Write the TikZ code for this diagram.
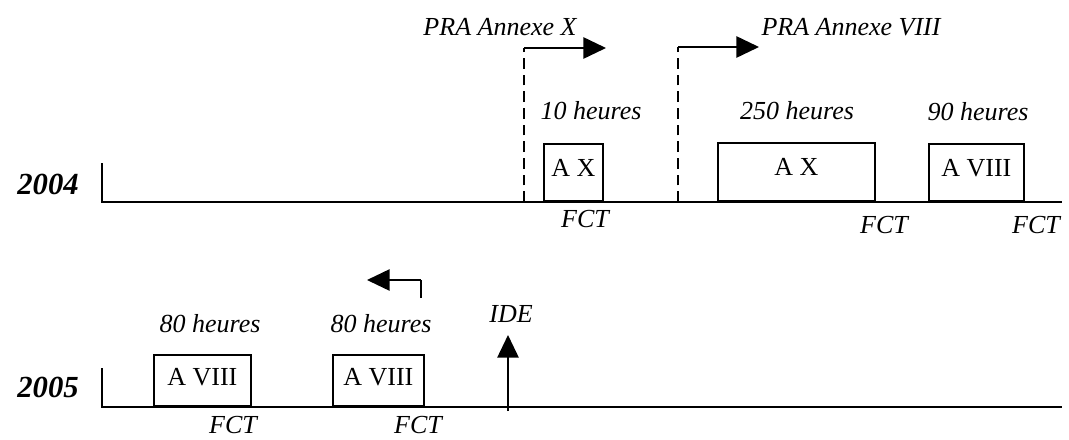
\documentclass[tikz,border=0pt]{standalone}
\usepackage{fontspec}
\setmainfont{Liberation Serif}
\usetikzlibrary{arrows.meta,positioning}

\tikzset{
  trait/.style={line width=1.3pt},
  tirets/.style={line width=1.3pt, dash pattern=on 8pt off 4.5pt},
  fleche/.style={line width=1.3pt, -{Triangle[length=17pt,width=16pt]}},
  boite/.style={draw, line width=1.3pt, anchor=south west, inner sep=0pt},
  nomboite/.style={anchor=north, inner sep=0pt, font=\fontsize{19.5}{22}\selectfont},
  heures/.style={inner sep=0pt, font=\fontsize{19.5}{22}\selectfont\itshape},
  annee/.style={inner sep=0pt, font=\fontsize{23}{26}\selectfont\bfseries\itshape}
}

\begin{document}
\begin{tikzpicture}[x=0.75pt, y=-0.75pt]
  \useasboundingbox (0,0) rectangle (1069,439);

  % Annee 2004
  \node[annee] (a2004) at (48,184) {2004};
  \coordinate (d2004) at (102,202);
  \coordinate (h2004) at (102,163);
  \coordinate (f2004) at (1062,202);
  \draw[trait] (h2004) -- (d2004) -- (f2004);

  \node[boite, minimum width=44.25pt, minimum height=42.75pt] (bx1) at (543,202) {};
  \node[boite, minimum width=117.75pt, minimum height=43.5pt] (bx2) at (717,202) {};
  \node[boite, minimum width=71.25pt, minimum height=42.75pt] (bv1) at (928,202) {};
  \node[nomboite, below=12pt of bx1.north] (tx1) {A X};
  \node[nomboite, below=12pt of bx2.north] (tx2) {A X};
  \node[nomboite, below=12pt of bv1.north] (tv1) {A VIII};

  \node[heures] (h10) at (591,111) {10 heures};
  \node[heures] (h250) at (797,111) {250 heures};
  \node[heures] (h90) at (978,112) {90 heures};
  \node[heures] (fct1) at (585,219) {FCT};
  \node[heures] (fct2) at (884,225) {FCT};
  \node[heures] (fct3) at (1036,225) {FCT};

  % Changements de PRA
  \node[heures] (praX) at (500,27) {PRA Annexe X};
  \node[heures] (pra8) at (851,27) {PRA Annexe VIII};
  \coordinate (px0) at (524,202);
  \coordinate (px1) at (524,48);
  \coordinate (px2) at (606,48);
  \coordinate (p80) at (678,202);
  \coordinate (p81) at (678,47);
  \coordinate (p82) at (759,47);
  \draw[tirets] (px0) -- (px1);
  \draw[fleche] (px1) -- (px2);
  \draw[tirets] (p80) -- (p81);
  \draw[fleche] (p81) -- (p82);

  % Annee 2005
  \node[annee] (a2005) at (48,387) {2005};
  \coordinate (d2005) at (102,407);
  \coordinate (h2005) at (102,368);
  \coordinate (f2005) at (1062,407);
  \draw[trait] (h2005) -- (d2005) -- (f2005);

  \node[boite, minimum width=72.75pt, minimum height=38.25pt] (bv2) at (153,407) {};
  \node[boite, minimum width=68.25pt, minimum height=38.25pt] (bv3) at (332,407) {};
  \node[nomboite, below=10.5pt of bv2.north] (tv2) {A VIII};
  \node[nomboite, below=10.5pt of bv3.north] (tv3) {A VIII};

  \node[heures] (h80a) at (210,324) {80 heures};
  \node[heures] (h80b) at (381,324) {80 heures};
  \node[heures] (fct4) at (233,425) {FCT};
  \node[heures] (fct5) at (418,425) {FCT};

  % Retour et IDE
  \coordinate (r0) at (421,298);
  \coordinate (r1) at (421,280);
  \coordinate (r2) at (367,280);
  \draw[trait] (r0) -- (r1);
  \draw[fleche] (r1) -- (r2);
  \node[heures] (ide) at (511,314) {IDE};
  \coordinate (i0) at (508,411);
  \coordinate (i1) at (508,335);
  \draw[fleche] (i0) -- (i1);
\end{tikzpicture}
\end{document}
